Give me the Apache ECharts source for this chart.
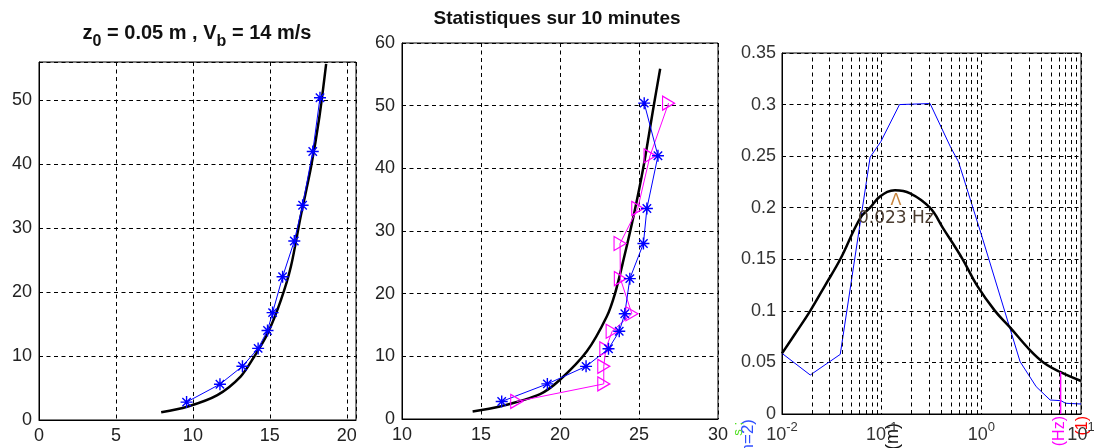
<!DOCTYPE html>
<html>
<head>
<meta charset="utf-8">
<title>Profils de vent</title>
<script src="https://cdn.jsdelivr.net/npm/echarts/dist/echarts.min.js"></script>
<style>
  html, body { margin: 0; padding: 0; background: #fff; }
  #chart { width: 1094px; height: 448px; }
</style>
</head>
<body>
<div id="chart"></div>
<script>
const FONT = 'Liberation Sans, Arial, Helvetica, sans-serif'

// hauteurs des anemometres (m)
const heights = [2.8, 5.6, 8.4, 11.2, 14, 16.8, 22.4, 28, 33.6, 42, 50.4]

// graphe 1 : profil theorique + mesures
const profileLeftV = [7.94, 9.63, 11.59, 13.1, 13.98, 14.85, 15.72, 16.37, 17.0, 17.68, 18.22, 18.66]
const profileLeftZ = [1.2, 2.08, 3.9, 6.8, 9.9, 13.5, 18.75, 24, 31.8, 39.6, 47.4, 55.7]
const meanSpeedLeft = [9.59, 11.76, 13.22, 14.24, 14.85, 15.18, 15.83, 16.59, 17.13, 17.79, 18.26]

// graphe 2 : statistiques sur 10 minutes
const profileMidV = [14.47, 16.2, 18.74, 20.0, 21.7, 22.96, 23.49, 24.02, 24.65, 25.28, 25.92, 26.34]
const profileMidZ = [1.2, 2.0, 3.98, 6.26, 10.8, 16.35, 20.1, 25.4, 32.3, 40.2, 49.8, 55.9]
const meanSpeedMid = [16.31, 19.2, 21.65, 23.07, 23.75, 24.1, 24.42, 25.28, 25.5, 26.2, 25.33]
const peakSpeedMid = [17.26, 22.77, 22.77, 22.9, 23.3, 24.55, 23.82, 23.8, 24.92, 25.7, 26.87]

// graphe 3 : spectres
const freqBlue = [0.01, 0.0192, 0.0384, 0.0766, 0.098, 0.151, 0.306, 0.49, 0.59, 1.0, 2.45, 3.55, 4.9, 6.3, 7.0, 10]
const psdBlue = [0.0588, 0.0378, 0.0578, 0.249, 0.264, 0.300, 0.301, 0.259, 0.2445, 0.174, 0.0507, 0.0265, 0.0136, 0.0129, 0.0104, 0.0097]
const freqBlack = [0.01, 0.0136, 0.0192, 0.0272, 0.0384, 0.0609, 0.0766, 0.0966, 0.136, 0.193, 0.305, 0.414, 0.65, 0.9, 1.37, 1.94, 3.07, 4.2, 6.1, 10]
const psdBlack = [0.0588, 0.078, 0.1, 0.125, 0.15, 0.19, 0.2, 0.211, 0.217, 0.214, 0.2, 0.18, 0.15, 0.125, 0.1, 0.084, 0.062, 0.05, 0.041, 0.032]
const freqMark = [6.24, 6.24]
const psdMark = [0.0407, 0]

const decades = [0.01, 0.1, 1]
const minorFreqs = []
decades.forEach(d => {
  for (let k = 2; k <= 9; k++) minorFreqs.push(k * d)
})

const gridLine = { color: '#000', type: [4, 3.5], width: 1 }
const asterisk = 'path://M0,-6L0,6M-6,0L6,0M-4.2,-4.2L4.2,4.2M-4.2,4.2L4.2,-4.2'
const triRight = 'path://M0,0L12,7L0,14Z'

function pairs(xs, ys) {
  return xs.map((x, i) => [x, ys[i]])
}

function valueAxis(gridIndex, min, max, interval, formatter) {
  return {
    type: 'value',
    gridIndex,
    min,
    max,
    interval,
    axisLine: { show: true, lineStyle: { color: '#000', width: 1 } },
    axisTick: { show: false },
    splitLine: { show: true, lineStyle: gridLine },
    axisLabel: {
      color: '#222',
      fontSize: 18,
      fontFamily: FONT,
      margin: 7,
      formatter
    }
  }
}

const grid = (left, top, width, height) => ({
  left, top, width, height,
  show: true,
  borderColor: '#000',
  borderWidth: 1,
  backgroundColor: '#fff',
  containLabel: false,
  outerBoundsMode: 'none'
})

const chart = echarts.init(document.getElementById('chart'), null, { renderer: 'canvas' })

chart.setOption({
  animation: false,
  backgroundColor: '#fff',
  grid: [
    grid(39, 62, 317, 358),
    grid(402, 43, 316, 376),
    grid(782, 53, 299, 361)
  ],
  xAxis: [
    valueAxis(0, 0, 20.6, 5, v => (v % 5 === 0 ? String(v) : '')),
    valueAxis(1, 10, 30, 5),
    {
      type: 'log',
      logBase: 10,
      gridIndex: 2,
      min: 0.01,
      max: 10,
      axisLine: { show: true, lineStyle: { color: '#000', width: 1 } },
      axisTick: { show: false },
      splitLine: { show: true, lineStyle: gridLine },
      axisLabel: {
        color: '#333',
        margin: 7,
        formatter: v => '{b|10}{e|' + Math.round(Math.log10(v)) + '}',
        rich: {
          b: { fontSize: 18, fontFamily: FONT, color: '#333' },
          e: { fontSize: 13, fontFamily: FONT, color: '#333', padding: [0, 0, 16, 0] }
        }
      }
    }
  ],
  yAxis: [
    valueAxis(0, 0, 56, 10, v => (v % 10 === 0 ? String(v) : '')),
    valueAxis(1, 0, 60, 10),
    Object.assign(valueAxis(2, 0, 0.35, 0.05), {
      axisLabel: { color: '#333', fontSize: 18, fontFamily: FONT, margin: 6 }
    })
  ],
  series: [
    {
      type: 'line', xAxisIndex: 0, yAxisIndex: 0,
      data: pairs(profileLeftV, profileLeftZ),
      smooth: 0.3, showSymbol: false,
      lineStyle: { color: '#000', width: 2.5 }
    },
    {
      type: 'line', xAxisIndex: 0, yAxisIndex: 0,
      data: pairs(meanSpeedLeft, heights),
      symbol: asterisk, symbolSize: 12,
      itemStyle: { color: '#0000ff', borderColor: '#0000ff', borderWidth: 1.4 },
      lineStyle: { color: '#0000ff', width: 1 }
    },
    {
      type: 'line', xAxisIndex: 1, yAxisIndex: 1,
      data: pairs(profileMidV, profileMidZ),
      smooth: 0.3, showSymbol: false,
      lineStyle: { color: '#000', width: 2.5 }
    },
    {
      type: 'line', xAxisIndex: 1, yAxisIndex: 1,
      data: pairs(peakSpeedMid, heights),
      symbol: triRight, symbolSize: [12, 14],
      itemStyle: { color: 'rgba(255,255,255,0)', borderColor: '#ff00ff', borderWidth: 1.2 },
      lineStyle: { color: '#ff00ff', width: 1 }
    },
    {
      type: 'line', xAxisIndex: 1, yAxisIndex: 1,
      data: pairs(meanSpeedMid, heights),
      symbol: asterisk, symbolSize: 12,
      itemStyle: { color: '#0000ff', borderColor: '#0000ff', borderWidth: 1.4 },
      lineStyle: { color: '#0000ff', width: 1 }
    },
    {
      // grille mineure de l'axe log
      type: 'line', xAxisIndex: 2, yAxisIndex: 2,
      data: [], z: 1, silent: true,
      markLine: {
        silent: true,
        symbol: 'none',
        label: { show: false },
        lineStyle: gridLine,
        data: minorFreqs.map(v => ({ xAxis: v }))
      }
    },
    {
      type: 'line', xAxisIndex: 2, yAxisIndex: 2,
      data: pairs(freqBlue, psdBlue),
      showSymbol: false,
      lineStyle: { color: '#0000ff', width: 1 }
    },
    {
      type: 'line', xAxisIndex: 2, yAxisIndex: 2,
      data: pairs(freqBlack, psdBlack),
      smooth: 0.4, showSymbol: false,
      lineStyle: { color: '#000', width: 2.5 }
    },
    {
      type: 'line', xAxisIndex: 2, yAxisIndex: 2,
      data: pairs(freqMark, psdMark),
      showSymbol: false, clip: false,
      lineStyle: { color: '#ff00ff', width: 1.5 }
    }
  ],
  graphic: [
    {
      type: 'text', x: 197, y: 33,
      style: {
        text: '{n|z}{s|0}{n| = 0.05 m , V}{s|b}{n| = 14 m/s}',
        align: 'center', verticalAlign: 'middle',
        rich: {
          n: { fontSize: 20, fontWeight: 'bold', fontFamily: FONT, fill: '#111' },
          s: { fontSize: 16, fontWeight: 'bold', fontFamily: FONT, fill: '#111', padding: [18, 0, 0, 0] }
        }
      }
    },
    {
      type: 'text', x: 557, y: 19,
      style: {
        text: 'Statistiques sur 10 minutes',
        align: 'center', verticalAlign: 'middle',
        font: 'bold 19px ' + FONT, fill: '#111'
      }
    },
    {
      type: 'text', x: 896, y: 201, z: 10,
      style: { text: 'Λ', align: 'center', verticalAlign: 'middle', font: '16px DejaVu Sans', fill: '#c8843c' }
    },
    {
      type: 'text', x: 858, y: 219, z: 10,
      style: { text: '0.023 Hz', align: 'left', verticalAlign: 'middle', font: '17px DejaVu Sans', fill: '#4a3c30' }
    },
    {
      type: 'text', x: 1060, y: 416, rotation: Math.PI / 2,
      style: { text: 'f (Hz)', align: 'right', verticalAlign: 'middle', font: '16px ' + FONT, fill: '#ff00ff' }
    },
    {
      type: 'text', x: 1083, y: 416, rotation: Math.PI / 2,
      style: { text: '(1)', align: 'right', verticalAlign: 'middle', font: '16px ' + FONT, fill: '#ff0000' }
    },
    {
      type: 'text', x: 748, y: 419, rotation: Math.PI / 2,
      style: { text: '(n=2)', align: 'right', verticalAlign: 'middle', font: '17px ' + FONT, fill: '#3050ff' }
    },
    {
      type: 'text', x: 738, y: 422, rotation: Math.PI / 2,
      style: { text: 's ;', align: 'right', verticalAlign: 'middle', font: '13px ' + FONT, fill: '#50e020' }
    },
    {
      type: 'text', x: 893, y: 423, rotation: Math.PI / 2,
      style: { text: 'z (m)', align: 'right', verticalAlign: 'middle', font: '18px ' + FONT, fill: '#111' }
    }
  ]
})
</script>
</body>
</html>
